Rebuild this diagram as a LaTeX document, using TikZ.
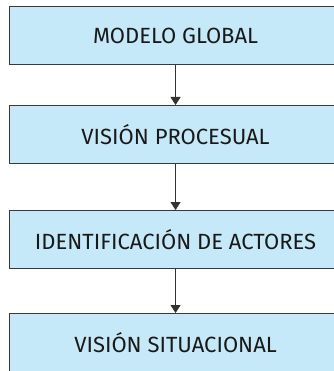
\documentclass[tikz,border=0pt]{standalone}
\usepackage{fontspec}
\setmainfont{Fira Sans}
\usetikzlibrary{arrows.meta}
\definecolor{boxfill}{HTML}{C5E9F8}
\definecolor{boxline}{HTML}{3A3A3A}
\definecolor{arrowc}{HTML}{333333}
\tikzset{
  stepbox/.style={draw=boxline, line width=1.1pt, fill=boxfill, minimum width=332pt, minimum height=58pt, inner sep=0pt, font=\fontsize{22pt}{24pt}\selectfont, text=black!90, anchor=north west},
  conn/.style={draw=arrowc, line width=0.9pt, -{Triangle[length=8pt,width=10pt]}}
}
\begin{document}
\begin{tikzpicture}[x=1pt,y=-1pt]
\useasboundingbox (0,0) rectangle (333,371);
\node[stepbox] (a) at (9,6) {MODELO GLOBAL};
\node[stepbox] (b) at (9,105) {VISIÓN PROCESUAL};
\node[stepbox] (c) at (9,210) {IDENTIFICACIÓN DE ACTORES};
\node[stepbox] (d) at (9,313) {VISIÓN SITUACIONAL};
\draw[conn] (a.south) -- (b.north);
\draw[conn] (b.south) -- (c.north);
\draw[conn] (c.south) -- (d.north);
\end{tikzpicture}
\end{document}
